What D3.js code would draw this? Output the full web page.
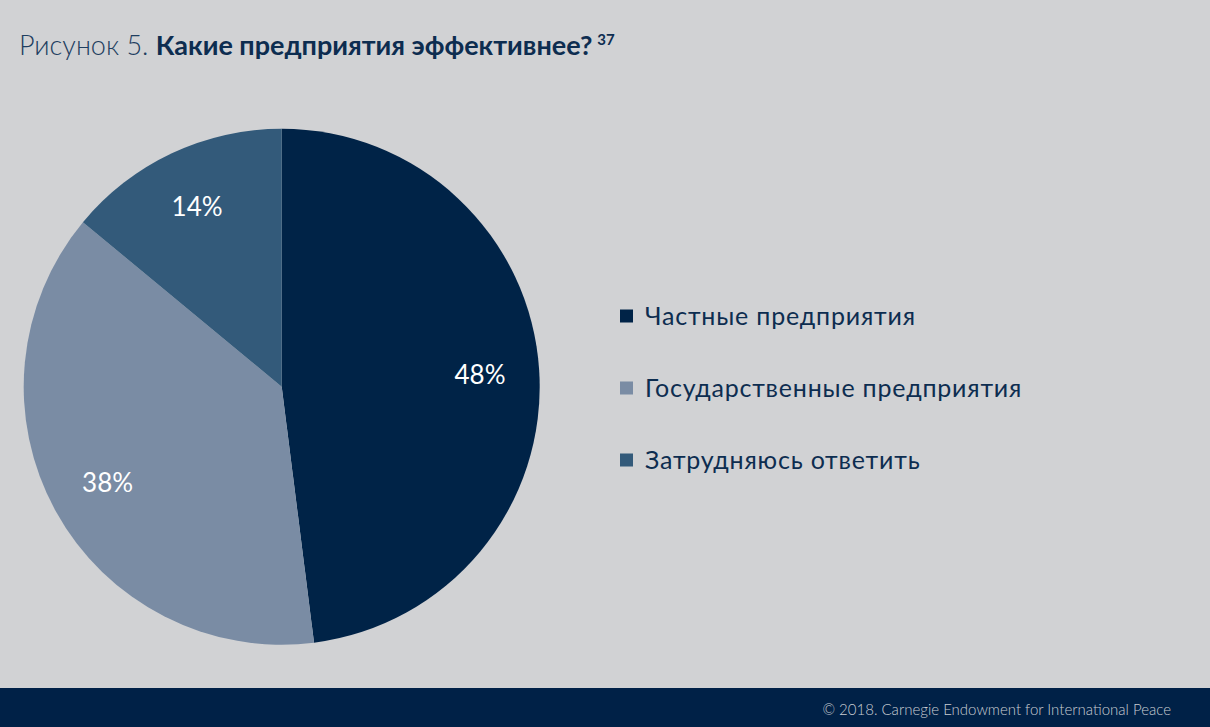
<!DOCTYPE html>
<html><head><meta charset="utf-8">
<script src="https://cdn.jsdelivr.net/npm/d3@7"></script>
<style>html,body{margin:0;padding:0;background:#d1d2d4;}svg{display:block;}</style>
</head><body>
<svg id="c" width="1210" height="727"></svg>
<script>
const categories = ["Частные предприятия", "Государственные предприятия", "Затрудняюсь ответить"];
const values = [48, 38, 14];
const colors = ["#002347", "#7a8ca4", "#335a7a"];
const titlePrefix = "Рисунок 5. ";
const titleMain = "Какие предприятия эффективнее?";
const titleNote = "37";
const footer = "© 2018. Carnegie Endowment for International Peace";

const W = 1210, H = 727;
const svg = d3.select("#c");
const font = "Lato, 'Open Sans', sans-serif";

svg.append("rect").attr("width", W).attr("height", H).attr("fill", "#d1d2d4");

// Title
const t = svg.append("text").attr("x", 19).attr("y", 55)
  .attr("font-family", font).attr("font-size", 27).attr("fill", "#0d2d50");
t.append("tspan").attr("font-weight", 300).attr("fill", "#1e3e60").text(titlePrefix);
t.append("tspan").attr("font-weight", 700).text(titleMain);
t.append("tspan").attr("font-weight", 700).attr("font-size", 15).attr("dx", 5).attr("dy", -10).text(titleNote);

// Pie
const cx = 281.7, cy = 386.7, R = 258;
const pie = d3.pie().sort(null).value(d => d)(values);
const arc = d3.arc().innerRadius(0).outerRadius(R);
const labelArc = d3.arc().innerRadius(R * 0.77).outerRadius(R * 0.77);
const g = svg.append("g").attr("transform", `translate(${cx},${cy})`);
g.selectAll("path").data(pie).join("path")
  .attr("d", arc).attr("fill", (d, i) => colors[i]);
g.selectAll("text").data(pie).join("text")
  .attr("transform", d => { const c = labelArc.centroid(d); return `translate(${c[0]},${c[1]})`; })
  .attr("text-anchor", "middle").attr("dy", "0.36em")
  .attr("font-family", font).attr("font-size", 26).attr("fill", "#ffffff")
  .text(d => d.data + "%");

// Legend
const ly = d3.scalePoint().domain(categories).range([316, 460]);
const lg = svg.append("g");
const items = lg.selectAll("g").data(categories).join("g")
  .attr("transform", d => `translate(620,${ly(d)})`);
items.append("rect").attr("x", 0).attr("y", -6.5).attr("width", 13).attr("height", 13)
  .attr("fill", (d, i) => colors[i]);
items.append("text").attr("x", 25).attr("dy", "0.36em")
  .attr("font-family", font).attr("font-size", 25).attr("letter-spacing", 0.8)
  .attr("fill", "#0d2d50").text(d => d);

// Footer
svg.append("rect").attr("x", 0).attr("y", 688).attr("width", W).attr("height", H - 688).attr("fill", "#002147");
svg.append("text").attr("x", 1171).attr("y", 715).attr("text-anchor", "end")
  .attr("font-family", font).attr("font-size", 15).attr("font-weight", 300).attr("fill", "#c9cdd3").text(footer);
</script>
</body></html>
